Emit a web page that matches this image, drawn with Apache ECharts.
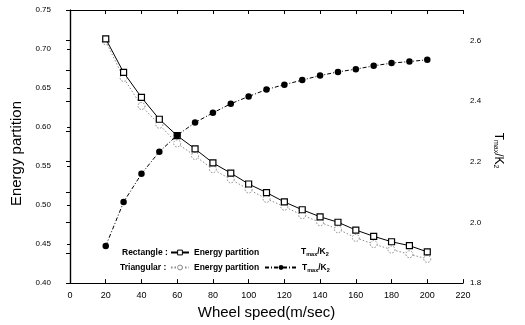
<!DOCTYPE html>
<html>
<head>
<meta charset="utf-8">
<script src="https://cdn.jsdelivr.net/npm/echarts@6/dist/echarts.min.js"></script>
<style>
  html, body { margin: 0; padding: 0; background: #fff; }
  #chart { width: 525px; height: 325px; }
</style>
</head>
<body>
<div id="chart"></div>
<script>
// Wheel speed (m/sec)
const speeds = [20, 30, 40, 50, 60, 70, 80, 90, 100, 110, 120, 130, 140, 150, 160, 170, 180, 190, 200];
// Energy partition, rectangular heat source
const rectEnergy = [0.713, 0.670, 0.638, 0.610, 0.589, 0.572, 0.554, 0.541, 0.527, 0.516, 0.504, 0.494, 0.485, 0.478, 0.468, 0.460, 0.453, 0.448, 0.440];
// Energy partition, triangular heat source
const triEnergy = [0.710, 0.663, 0.627, 0.603, 0.579, 0.563, 0.546, 0.533, 0.520, 0.508, 0.498, 0.487, 0.478, 0.469, 0.458, 0.450, 0.443, 0.437, 0.431];
// Tmax / K2 (right axis)
const tmaxK2 = [1.922, 2.067, 2.160, 2.233, 2.287, 2.329, 2.361, 2.391, 2.415, 2.438, 2.454, 2.469, 2.484, 2.496, 2.505, 2.516, 2.525, 2.530, 2.536];

const pairs = (ys) => speeds.map((x, i) => [x, ys[i]]);

const FONT = 'Liberation Sans, Arial, sans-serif';
const tmaxRich = {
  t: { fontSize: 8.5, fontWeight: 'bold', fontFamily: FONT, color: '#000' },
  s: { fontSize: 5.5, fontWeight: 'bold', fontFamily: FONT, color: '#000', padding: [5, 0, 0, 0] }
};

const chart = echarts.init(document.getElementById('chart'), null, { renderer: 'canvas' });

const axisLine = { show: true, lineStyle: { color: '#000', width: 1.2 } };

chart.setOption({
  animation: false,
  backgroundColor: '#fff',
  grid: { left: 70, right: 62, top: 10, bottom: 41, containLabel: false },
  xAxis: [
    {
      type: 'value', position: 'bottom', min: 0, max: 220, interval: 20,
      axisLine: axisLine,
      axisTick: { show: true, inside: true, length: 4, lineStyle: { color: '#000' } },
      axisLabel: { fontSize: 9, color: '#000', margin: 8, fontFamily: FONT },
      splitLine: { show: false },
      name: 'Wheel speed(m/sec)', nameLocation: 'middle', nameGap: 19,
      nameTextStyle: { fontSize: 15, color: '#000', fontFamily: FONT }
    },
    {
      type: 'value', position: 'top', min: 0, max: 220, interval: 20,
      axisLine: axisLine,
      axisTick: { show: true, inside: true, length: 4, lineStyle: { color: '#000' } },
      axisLabel: { show: false },
      splitLine: { show: false }
    }
  ],
  yAxis: [
    {
      type: 'value', position: 'left', min: 0.40, max: 0.75, interval: 0.05,
      axisLine: axisLine,
      axisTick: { show: true, inside: false, length: 3, lineStyle: { color: '#000' } },
      axisLabel: { fontSize: 8, color: '#000', margin: 19, fontFamily: FONT, formatter: (v) => v.toFixed(2) },
      splitLine: { show: false },
      name: 'Energy partition', nameLocation: 'middle', nameGap: 41,
      nameTextStyle: { fontSize: 15, color: '#000', fontFamily: FONT, padding: [0, 14, 0, 0] }
    },
    {
      type: 'value', position: 'right', min: 1.8, max: 2.7, interval: 0.1,
      axisLine: axisLine,
      axisTick: { show: true, inside: true, length: 4, lineStyle: { color: '#000' } },
      axisLabel: {
        fontSize: 8, color: '#000', margin: 7, fontFamily: FONT,
        formatter: (v) => (Math.round(v * 10) % 2 === 0 && v < 2.65) ? v.toFixed(1) : ''
      },
      splitLine: { show: false },
      name: '{t|T}{s|max}{t|/K}{s|2}', nameLocation: 'middle', nameGap: 28, nameRotate: -90,
      nameTextStyle: {
        padding: [0, 0, 0, 8],
        rich: {
          t: { fontSize: 12, fontFamily: FONT, color: '#000' },
          s: { fontSize: 7, fontFamily: FONT, color: '#000', padding: [6, 0, 0, 0] }
        }
      }
    }
  ],
  legend: [
    {
      data: ['Rectangle energy partition'], left: 170, top: 248, padding: 0,
      itemWidth: 18, itemHeight: 6, itemGap: 4,
      itemStyle: { borderWidth: 1 },
      formatter: () => 'Energy partition',
      textStyle: { fontSize: 8.5, fontWeight: 'bold', color: '#000', fontFamily: FONT }
    },
    {
      data: ['Triangular energy partition'], left: 170, top: 263, padding: 0,
      itemWidth: 18, itemHeight: 6, itemGap: 4,
      itemStyle: { borderWidth: 1 },
      formatter: () => 'Energy partition',
      textStyle: { fontSize: 8.5, fontWeight: 'bold', color: '#000', fontFamily: FONT }
    },
    {
      data: ['Tmax/K2'], left: 264, top: 263, padding: 0,
      itemWidth: 32, itemHeight: 6,
      formatter: () => '{t|T}{s|max}{t|/K}{s|2}',
      textStyle: { rich: tmaxRich }
    }
  ],
  graphic: [
    { type: 'text', left: 122, top: 248, style: { text: 'Rectangle :', font: 'bold 8.5px ' + FONT, fill: '#000' } },
    { type: 'text', left: 120, top: 263, style: { text: 'Triangular :', font: 'bold 8.5px ' + FONT, fill: '#000' } },
    { type: 'text', left: 301, top: 247, style: { text: '{t|T}{s|max}{t|/K}{s|2}', rich: tmaxRich } }
  ],
  series: [
    {
      name: 'Triangular energy partition', type: 'line', xAxisIndex: 0, yAxisIndex: 0,
      data: pairs(triEnergy),
      symbol: 'circle', symbolSize: 7,
      lineStyle: { color: '#8a8a8a', width: 1, type: [1.5, 2] },
      itemStyle: { color: '#fff', borderColor: '#8a8a8a', borderWidth: 1, borderType: [1.5, 1.5] },
      z: 2
    },
    {
      name: 'Rectangle energy partition', type: 'line', xAxisIndex: 0, yAxisIndex: 0,
      data: pairs(rectEnergy),
      symbol: 'rect', symbolSize: 6,
      lineStyle: { color: '#000', width: 1 },
      itemStyle: { color: '#fff', borderColor: '#000', borderWidth: 1.2 },
      z: 3
    },
    {
      name: 'Tmax/K2', type: 'line', xAxisIndex: 0, yAxisIndex: 1,
      data: pairs(tmaxK2),
      symbol: 'circle', symbolSize: 6.5,
      lineStyle: { color: '#000', width: 1, type: [4, 2, 1, 2] },
      itemStyle: { color: '#000', borderColor: '#000', borderWidth: 0 },
      z: 4
    }
  ]
});
</script>
</body>
</html>
